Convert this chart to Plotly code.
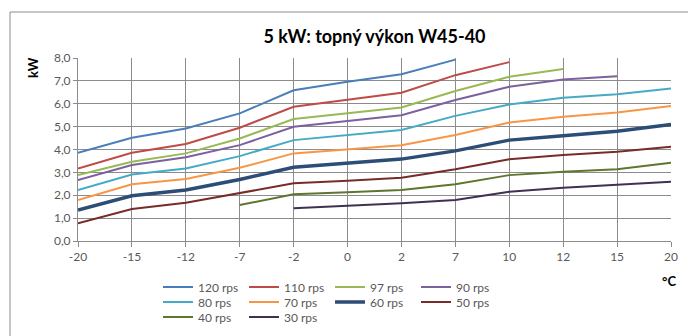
import plotly.graph_objects as go

# Outdoor temperature categories (°C)
temps = ["-20", "-15", "-12", "-7", "-2", "0", "2", "7", "10", "12", "15", "20"]

# Heating output (kW) per compressor speed; None where the speed is not used
p120 = [3.86, 4.51, 4.92, 5.58, 6.59, 6.96, 7.29, 7.93, None, None, None, None]
p110 = [3.17, 3.86, 4.24, 4.95, 5.87, 6.19, 6.48, 7.25, 7.82, None, None, None]
p97 = [2.88, 3.46, 3.83, 4.48, 5.33, 5.58, 5.84, 6.56, 7.18, 7.52, None, None]
p90 = [2.66, 3.32, 3.66, 4.19, 4.99, 5.25, 5.50, 6.16, 6.74, 7.06, 7.20, None]
p80 = [2.23, 2.91, 3.17, 3.71, 4.41, 4.63, 4.85, 5.47, 5.97, 6.26, 6.42, 6.67]
p70 = [1.79, 2.48, 2.71, 3.20, 3.83, 4.02, 4.19, 4.63, 5.18, 5.43, 5.62, 5.90]
p60 = [1.35, 1.98, 2.23, 2.69, 3.22, 3.39, 3.58, 3.94, 4.41, 4.60, 4.80, 5.09]
p50 = [0.77, 1.40, 1.67, 2.11, 2.52, 2.63, 2.77, 3.14, 3.57, 3.76, 3.90, 4.12]
p40 = [None, None, None, 1.57, 2.04, 2.13, 2.23, 2.48, 2.88, 3.03, 3.14, 3.42]
p30 = [None, None, None, None, 1.43, 1.53, 1.65, 1.79, 2.15, 2.33, 2.45, 2.59]

# name, values, colour, line width, legend row
series = [
    ("120 rps", p120, "#4A7EBB", 2, "legend"),
    ("110 rps", p110, "#BE4B48", 2, "legend"),
    ("97 rps", p97, "#98B954", 2, "legend"),
    ("90 rps", p90, "#7D60A0", 2, "legend"),
    ("80 rps", p80, "#46AAC5", 2, "legend2"),
    ("70 rps", p70, "#F79646", 2, "legend2"),
    ("60 rps", p60, "#2C4D75", 3.5, "legend2"),
    ("50 rps", p50, "#772C2A", 2, "legend2"),
    ("40 rps", p40, "#5F7530", 2, "legend3"),
    ("30 rps", p30, "#403152", 2, "legend3"),
]

fig = go.Figure()
for name, vals, color, width, leg in series:
    fig.add_trace(go.Scatter(
        x=temps, y=vals, name=name, mode="lines",
        line=dict(color=color, width=width),
        connectgaps=False, legend=leg,
    ))

FONT = "Lato, Open Sans, sans-serif"
grid = "#8C8C8C"
tick_font = dict(family=FONT, size=12, color="#595959")

# plot area in pixels
L, R, T, B = 78, 671, 58, 241
W, H = R - L, B - T


def px_x(x):
    return (x - L) / W


def px_y(y):
    return (B - y) / H


def legend_row(y_center):
    return dict(
        orientation="h",
        x=px_x(158), xanchor="left",
        y=px_y(y_center), yanchor="middle",
        entrywidth=41, entrywidthmode="pixels",
        itemwidth=30, tracegroupgap=0,
        font=dict(family=FONT, size=12, color="#595959"),
        bgcolor="rgba(0,0,0,0)", borderwidth=0,
    )


fig.update_layout(
    width=688, height=336,
    margin=dict(l=L, r=688 - R, t=T, b=336 - B, autoexpand=False),
    paper_bgcolor="white", plot_bgcolor="white",
    separators=", ",
    title=dict(
        text="<b>5 kW: topný výkon W45-40</b>",
        x=(L + R) / 2 / 688, xanchor="center",
        y=1 - 37 / 336, yanchor="middle",
        font=dict(family=FONT, size=18, color="black"),
    ),
    xaxis=dict(
        type="category", range=[0, 11],
        showgrid=True, gridcolor=grid, gridwidth=1,
        showline=True, linecolor=grid, linewidth=1,
        ticks="outside", ticklen=5, tickcolor=grid,
        tickfont=tick_font, zeroline=False,
    ),
    yaxis=dict(
        range=[0, 8], dtick=1, tickformat=".1f",
        showgrid=True, gridcolor=grid, gridwidth=1,
        showline=True, linecolor=grid, linewidth=1,
        ticks="outside", ticklen=4, tickcolor=grid,
        tickfont=tick_font, zeroline=False,
    ),
    legend=legend_row(287),
    legend2=legend_row(302),
    legend3=legend_row(317),
    annotations=[
        dict(text="<b>kW</b>", x=px_x(33), y=px_y(68), xref="paper", yref="paper",
             xanchor="center", yanchor="middle",
             showarrow=False, textangle=-90,
             font=dict(family=FONT, size=13, color="black")),
        dict(text="<b>°C</b>", x=px_x(669), y=px_y(281), xref="paper", yref="paper",
             xanchor="center", yanchor="middle",
             showarrow=False,
             font=dict(family=FONT, size=13, color="black")),
    ],
    shapes=[
        dict(type="rect", xref="paper", yref="paper",
             x0=px_x(10), x1=px_x(760),
             y0=px_y(400), y1=px_y(12),
             line=dict(color="#8C8C8C", width=1), fillcolor="rgba(0,0,0,0)",
             layer="below"),
    ],
)

fig.write_html("out.html")
